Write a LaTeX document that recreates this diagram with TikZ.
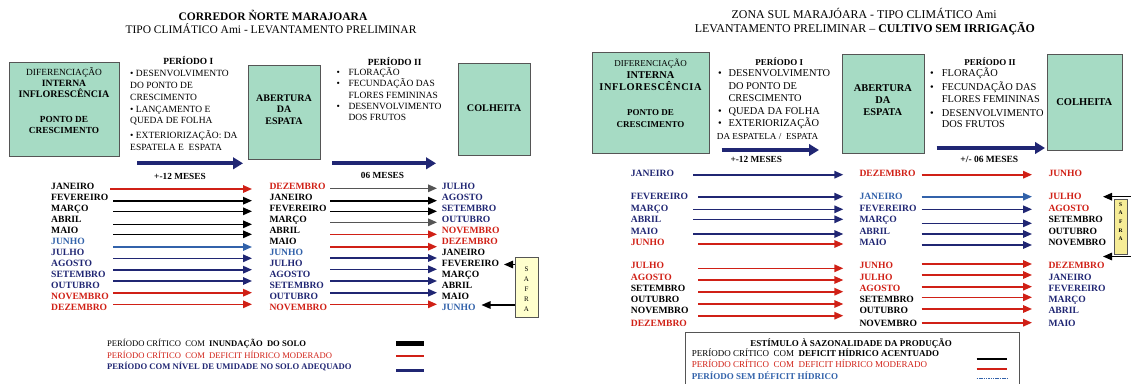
\documentclass[tikz,border=0pt]{standalone}
\usepackage{fontspec}
\setmainfont{Liberation Serif}
\usetikzlibrary{arrows.meta}
\definecolor{navy}{RGB}{32,38,115}
\definecolor{lblue}{RGB}{50,98,170}
\definecolor{mred}{RGB}{208,32,22}
\definecolor{mint}{RGB}{166,219,196}
\definecolor{dgray}{RGB}{85,85,85}
\definecolor{ylwa}{RGB}{255,255,205}
\definecolor{ylwb}{RGB}{246,236,150}
\newcommand{\fsz}[1]{\fontsize{#1}{#1}\selectfont}
\tikzset{
 txt/.style={inner sep=0pt, text height=1.5ex, text depth=0pt},
 tl/.style={txt, anchor=west},
 mon/.style={tl, font=\fsz{9.6}\bfseries},
 bx/.style={draw=dgray, line width=0.9pt, fill=mint, anchor=north west, inner sep=0pt},
 arr/.style={line width=1.6pt, -{Triangle[length=9pt,width=7.5pt]}},
 bigarr/.style={line width=4pt, navy, -{Triangle[length=10pt,width=11.5pt]}},
 lbt/.style={txt, font=\fsz{9.5}},
 rbt/.style={txt, font=\fsz{10.4}},
}
\begin{document}
\begin{tikzpicture}[x=1pt,y=-1pt]
\useasboundingbox (0,0) rectangle (1131,383);
% ================= LEFT PANEL =================
\node[txt,font=\fsz{11.5}\bfseries] (lt1) at (273,17) {CORREDOR N̉ORTE MARAJOARA};
\node[txt,font=\fsz{11.5}] (lt2) at (271,29.7) {TIPO CLIMÁTICO Ami - LEVANTAMENTO PRELIMINAR};
% boxes
\node[bx, minimum width=110pt, minimum height=94pt] (lb1) at (9,62) {};
\node[bx, minimum width=72pt, minimum height=94pt] (lb2) at (248,64.5) {};
\node[bx, minimum width=72pt, minimum height=92pt] (lb3) at (458,62.5) {};
\node[txt,font=\fsz{9.4}] (lb1a) at (64,71.7) {DIFERENCIAÇÃO};
\node[txt,font=\fsz{9.6}\bfseries] (lb1b) at (64,82.7) {INTERNA};
\node[txt,font=\fsz{10}\bfseries] (lb1c) at (64,94.3) {INFLORESCÊNCIA};
\node[txt,font=\fsz{9.3}\bfseries] (lb1d) at (64,118.7) {PONTO DE};
\node[txt,font=\fsz{9.3}\bfseries] (lb1e) at (64,130) {CRESCIMENTO};
\node[txt,font=\fsz{10}\bfseries] (lb2a) at (284,97.7) {ABERTURA};
\node[txt,font=\fsz{10}\bfseries] (lb2b) at (284,109.5) {DA};
\node[txt,font=\fsz{10}\bfseries] (lb2c) at (284,120.7) {ESPATA};
\node[txt,font=\fsz{10.2}\bfseries] (lb3a) at (494,108.3) {COLHEITA};
% periodo I
\node[txt,font=\fsz{9.4}\bfseries] (lp1) at (188.3,61) {PERÍODO I};
\node[lbt,anchor=west] (lp1a) at (130,73.3) {• DESENVOLVIMENTO};
\node[lbt,anchor=west] (lp1b) at (130,85.3) {DO PONTO DE};
\node[lbt,anchor=west] (lp1c) at (130,96.7) {CRESCIMENTO};
\node[lbt,anchor=west] (lp1d) at (130,109.3) {• LANÇAMENTO E};
\node[lbt,anchor=west] (lp1e) at (130,120) {QUEDA DE FOLHA};
\node[lbt,anchor=west] (lp1f) at (130,135) {• EXTERIORIZAÇÃO: DA};
\node[lbt,anchor=west] (lp1g) at (130,146.7) {ESPATELA E\ \ ESPATA};
% periodo II
\node[txt,font=\fsz{9.4}\bfseries] (lp2) at (394.7,61.7) {PERÍODO II};
\foreach \n/\y in {a/71.7,b/83.3,c/106}{\node[lbt,anchor=west] (lq\n) at (336.5,\y) {•};}
\node[lbt,anchor=west] (lp2a) at (348.3,71.7) {FLORAÇÃO};
\node[lbt,anchor=west] (lp2b) at (348.3,83.3) {FECUNDAÇÃO DAS};
\node[lbt,anchor=west] (lp2c) at (348.3,95) {FLORES FEMININAS};
\node[lbt,anchor=west] (lp2d) at (348.3,106) {DESENVOLVIMENTO};
\node[lbt,anchor=west] (lp2e) at (348.3,117.3) {DOS FRUTOS};
% big arrows
\coordinate (lba1) at (137,163.3); \coordinate (lbb1) at (243,163.3);
\coordinate (lba2) at (332,163.3); \coordinate (lbb2) at (436,163.3);
\draw[bigarr] (lba1) -- (lbb1);
\draw[bigarr] (lba2) -- (lbb2);
\node[txt,font=\fsz{9.3}\bfseries] (lm1) at (180,175.7) {+-12 MESES};
\node[txt,font=\fsz{9.3}\bfseries] (lm2) at (382.5,175.5) {06 MESES};
% month columns
\foreach \m/\c [count=\i] in {JANEIRO/black,FEVEREIRO/black,MARÇO/black,ABRIL/black,MAIO/black,JUNHO/lblue,JULHO/navy,AGOSTO/navy,SETEMBRO/navy,OUTUBRO/navy,NOVEMBRO/mred,DEZEMBRO/mred}
  \node[mon,text=\c] (lca\i) at (51,{186+11*(\i-1)}) {\m};
\foreach \m/\c [count=\i] in {DEZEMBRO/mred,JANEIRO/black,FEVEREIRO/black,MARÇO/black,ABRIL/black,MAIO/black,JUNHO/lblue,JULHO/navy,AGOSTO/navy,SETEMBRO/navy,OUTUBRO/navy,NOVEMBRO/mred}
  \node[mon,text=\c] (lcb\i) at (269.3,{186+11*(\i-1)}) {\m};
\foreach \m/\c [count=\i] in {JULHO/navy,AGOSTO/navy,SETEMBRO/navy,OUTUBRO/navy,NOVEMBRO/mred,DEZEMBRO/mred,JANEIRO/black,FEVEREIRO/black,MARÇO/black,ABRIL/black,MAIO/black,JUNHO/lblue}
  \node[mon,text=\c] (lcc\i) at (441.7,{186+11*(\i-1)}) {\m};
% arrows col 1
\foreach \y/\c/\s [count=\i] in {189/mred/110,200.7/black/113,211.3/black/113,224.3/black/113,234.3/black/113,247/lblue/113,258.3/navy/113,269.7/navy/113,281/navy/113,292.7/mred/113,304.3/mred/113}{
  \coordinate (lxa\i) at (\s,\y); \coordinate (lya\i) at (252,\y);
  \draw[arr,\c] (lxa\i) -- (lya\i);}
% arrows col 2
\foreach \y/\c [count=\i] in {188.3/dgray,200.7/black,211.3/black,222.3/dgray,234.3/mred,246.7/mred,258/navy,269.3/navy,281/navy,292.7/navy,304.3/mred}{
  \coordinate (lxb\i) at (330,\y); \coordinate (lyb\i) at (437,\y);
  \draw[arr,\c] (lxb\i) -- (lyb\i);}
% safra left
\node[draw=dgray, line width=0.7pt, fill=ylwa, anchor=north west, minimum width=23pt, minimum height=60pt, inner sep=0pt] (lsf) at (515,257) {};
\begin{scope}
\clip (515,257) rectangle (538,316.5);
\foreach \l/\y in {S/268.3,A/278.5,F/288.3,R/298.3,A/308.5}
  \node[txt,font=\fsz{7}] at (526.5,\y) {\l};
\end{scope}
\coordinate (lsfa) at (515,264.5); \coordinate (lsfb) at (504,264.5);
\coordinate (lsfc) at (515,305); \coordinate (lsfd) at (481.5,305);
\draw[arr,black,line width=1.3pt] (lsfa) -- (lsfb);
\draw[arr,black,line width=1.3pt] (lsfc) -- (lsfd);
% legend left
\node[tl,font=\fsz{8.6}] (llg1) at (107,343.3) {PERÍODO CRÍTICO\ \ COM\ \ \textbf{INUNDAÇÃO\ \ DO SOLO}};
\node[tl,font=\fsz{8.6},text=mred] (llg2) at (107,355) {PERÍODO CRÍTICO\ \ COM\ \ DEFICIT HÍDRICO MODERADO};
\node[tl,font=\fsz{8.6}\bfseries,text=navy] (llg3) at (107,366.3) {PERÍODO COM NÍVEL DE UMIDADE NO SOLO ADEQUADO};
\coordinate (lk1a) at (396,343.5); \coordinate (lk1b) at (424,343.5);
\coordinate (lk2a) at (396,355.7); \coordinate (lk2b) at (424,355.7);
\coordinate (lk3a) at (396,370); \coordinate (lk3b) at (424,370);
\draw[line width=4.2pt,black] (lk1a) -- (lk1b);
\draw[line width=1.8pt,mred] (lk2a) -- (lk2b);
\draw[line width=3pt,navy] (lk3a) -- (lk3b);
% ================= RIGHT PANEL =================
\node[txt,font=\fsz{11.9}] (rt1) at (864.2,15.3) {ZONA SUL MARAJÓARA - TIPO CLIMÁTICO Ami};
\node[txt,font=\fsz{11.9}] (rt2) at (864.9,29) {LEVANTAMENTO PRELIMINAR – \textbf{CULTIVO SEM IRRIGAÇÃO}};
\node[bx, minimum width=117.6pt, minimum height=101pt] (rb1) at (591.7,52) {};
\node[bx, minimum width=82.3pt, minimum height=99pt] (rb2) at (841.7,54.3) {};
\node[bx, minimum width=74.4pt, minimum height=95.7pt] (rb3) at (1047.3,54.3) {};
\node[txt,font=\fsz{9}] (rb1a) at (650.5,63.3) {DIFERENCIAÇÃO};
\node[txt,font=\fsz{10.4}\bfseries] (rb1b) at (650.5,75) {INTERNA};
\node[txt,font=\fsz{10.4}\bfseries] (rb1c) at (650.5,87.3) {\addfontfeature{LetterSpace=6}INFLORESCÊNCIA};
\node[txt,font=\fsz{9}\bfseries] (rb1d) at (650.5,111.7) {PONTO DE};
\node[txt,font=\fsz{9}\bfseries] (rb1e) at (650.5,124) {CRESCIMENTO};
\node[txt,font=\fsz{10.4}\bfseries] (rb2a) at (882.8,87.7) {ABERTURA};
\node[txt,font=\fsz{10.4}\bfseries] (rb2b) at (882.8,100) {DA};
\node[txt,font=\fsz{10.4}\bfseries] (rb2c) at (882.8,111.7) {ESPATA};
\node[txt,font=\fsz{10.5}\bfseries] (rb3a) at (1084.3,101.7) {COLHEITA};
% periodo I right
\node[txt,font=\fsz{9}\bfseries] (rp1) at (779.2,61.7) {PERÍODO I};
\foreach \n/\y in {a/72.7,b/111,c/123.3}{\node[rbt,anchor=west] (rq\n) at (718,\y) {•};}
\node[rbt,anchor=west] (rp1a) at (728.3,72.7) {DESENVOLVIMENTO};
\node[rbt,anchor=west] (rp1b) at (728.3,86) {DO PONTO DE};
\node[rbt,anchor=west] (rp1c) at (728.3,98.3) {CRESCIMENTO};
\node[rbt,anchor=west] (rp1d) at (728.3,111) {QUEDA DA FOLHA};
\node[rbt,anchor=west] (rp1e) at (728.3,123.3) {EXTERIORIZAÇÃO};
\node[txt,font=\fsz{9.2},anchor=west] (rp1f) at (716.7,136) {DA ESPATELA /\ \ ESPATA};
% periodo II right
\node[txt,font=\fsz{9}\bfseries] (rp2) at (990,61.7) {PERÍODO II};
\foreach \n/\y in {a/72.7,b/87.3,c/112.7}{\node[rbt,anchor=west] (rr\n) at (930,\y) {•};}
\node[rbt,anchor=west] (rp2a) at (941.7,72.7) {FLORAÇÃO};
\node[rbt,anchor=west] (rp2b) at (941.7,87.3) {FECUNDAÇÃO DAS};
\node[rbt,anchor=west] (rp2c) at (941.7,99.3) {FLORES FEMININAS};
\node[rbt,anchor=west] (rp2d) at (941.7,112.7) {DESENVOLVIMENTO};
\node[rbt,anchor=west] (rp2e) at (941.7,124) {DOS FRUTOS};
% big arrows right
\coordinate (rba1) at (721.7,150); \coordinate (rbb1) at (819,150);
\coordinate (rba2) at (936.7,148); \coordinate (rbb2) at (1045,148);
\draw[bigarr] (rba1) -- (rbb1);
\draw[bigarr] (rba2) -- (rbb2);
\node[txt,font=\fsz{9.3}\bfseries] (rm1) at (756.3,159.5) {+-12 MESES};
\node[txt,font=\fsz{9.5}\bfseries] (rm2) at (989.3,159.5) {+/- 06 MESES};
% month columns right
\foreach \m/\c/\y [count=\i] in {JANEIRO/navy/173.3,FEVEREIRO/navy/196,MARÇO/navy/207.7,ABRIL/navy/219.3,MAIO/navy/230.7,JUNHO/mred/241.7,JULHO/mred/265,AGOSTO/mred/276.7,SETEMBRO/black/287.7,OUTUBRO/black/299,NOVEMBRO/black/310,DEZEMBRO/mred/322.7}
  \node[mon,text=\c] (rca\i) at (630.7,\y) {\m};
\foreach \m/\c/\y [count=\i] in {DEZEMBRO/mred/173.3,JANEIRO/lblue/196,FEVEREIRO/navy/207.7,MARÇO/navy/219.3,ABRIL/navy/230.7,MAIO/navy/241.7,JUNHO/mred/265,JULHO/mred/276.7,AGOSTO/mred/287.7,SETEMBRO/black/299,OUTUBRO/black/310,NOVEMBRO/black/322.7}
  \node[mon,text=\c] (rcb\i) at (859.3,\y) {\m};
\foreach \m/\c/\y [count=\i] in {JUNHO/mred/173.3,JULHO/mred/196,AGOSTO/mred/207.7,SETEMBRO/black/219.3,OUTUBRO/black/230.7,NOVEMBRO/black/241.7,DEZEMBRO/mred/265,JANEIRO/navy/276.7,FEVEREIRO/navy/287.7,MARÇO/navy/299,ABRIL/navy/310,MAIO/navy/322.7}
  \node[mon,text=\c] (rcc\i) at (1048.3,\y) {\m};
% arrows right col1
\foreach \y/\c/\s [count=\i] in {174.7/navy/693,196.7/navy/698,209.3/navy/693,219.3/navy/693,234/navy/693,244/mred/698,268.3/mred/698,280/mred/698,291.7/mred/698,304/mred/698,315.7/mred/698}{
  \coordinate (rxa\i) at (\s,\y); \coordinate (rya\i) at (843.3,\y);
  \draw[arr,\c] (rxa\i) -- (rya\i);}
% arrows right col2
\foreach \y/\c [count=\i] in {174.7/mred,196.7/lblue,209.3/navy,223.3/navy,234/navy,245/navy,264/mred,275/mred,286.7/mred,297.3/mred,309/mred,322.7/mred}{
  \coordinate (rxb\i) at (921.7,\y); \coordinate (ryb\i) at (1032,\y);
  \draw[arr,\c] (rxb\i) -- (ryb\i);}
% safra right
\node[draw=dgray, line width=0.5pt, fill=ylwb, anchor=north west, minimum width=13.3pt, minimum height=55pt, inner sep=0pt] (rsf) at (1114,199) {};
\foreach \l/\y in {S/202.7,A/211.4,F/220,R/228.7,A/237.4}
  \node[txt,font=\fsz{5.5}\bfseries] at (1120.7,\y) {\l};
\coordinate (rsfa) at (1131,196.7); \coordinate (rsfb) at (1103,196.7);
\coordinate (rsfc) at (1131,256.5); \coordinate (rsfd) at (1103,256.5);
\draw[arr,black,line width=1.3pt] (rsfa) -- (rsfb);
\draw[arr,black,line width=1.3pt] (rsfc) -- (rsfd);
% legend right
\node[draw=dgray, line width=0.7pt, anchor=north west, minimum width=334.3pt, minimum height=60pt, inner sep=0pt] (rlgb) at (685,332.3) {};
\node[txt,font=\fsz{9}\bfseries] (rlg0) at (851,343.3) {ESTÍMULO À SAZONALIDADE DA PRODUÇÃO};
\node[tl,font=\fsz{9}] (rlg1) at (691.7,353.3) {PERÍODO CRÍTICO\ \ COM\ \ \textbf{DEFICIT HÍDRICO ACENTUADO}};
\node[tl,font=\fsz{9},text=mred] (rlg2) at (691.7,364.3) {PERÍODO CRÍTICO\ \ COM\ \ DEFICIT HÍDRICO MODERADO};
\node[tl,font=\fsz{9}\bfseries,text=lblue] (rlg3) at (691.7,376) {PERÍODO SEM DÉFICIT HÍDRICO};
\coordinate (rk1a) at (976.7,359); \coordinate (rk1b) at (1007.3,359);
\coordinate (rk2a) at (976.7,368.7); \coordinate (rk2b) at (1007.3,368.7);
\coordinate (rk3a) at (976.7,378); \coordinate (rk3b) at (1007.3,378);
\draw[line width=2.2pt,black] (rk1a) -- (rk1b);
\draw[line width=2.2pt,mred] (rk2a) -- (rk2b);
\draw[line width=0.8pt,lblue,dash pattern=on 1.5pt off 0.8pt] (rk3a) -- (rk3b);
\end{tikzpicture}
\end{document}
